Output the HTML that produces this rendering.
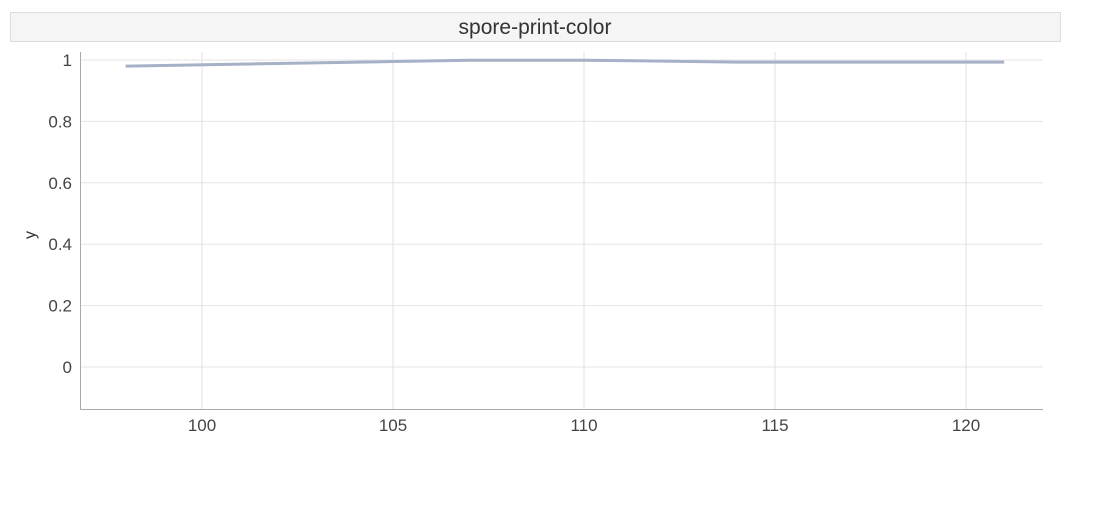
<!DOCTYPE html>
<html><head><meta charset="utf-8"><style>
body{margin:0;background:#fff;width:1109px;height:505px;overflow:hidden;font-family:"Liberation Sans",sans-serif;}
</style></head><body>
<svg width="1109" height="505">
<rect x="10.5" y="12.5" width="1050" height="29" fill="#f5f5f5" stroke="#ddd"/>
<text x="535" y="34" text-anchor="middle" font-size="21" fill="#333">spore-print-color</text>
<g id="grid"></g>
<line x1="80.5" y1="52" x2="80.5" y2="409.5" stroke="#aaa"/>
<line x1="80" y1="409.5" x2="1043" y2="409.5" stroke="#aaa"/>
<text transform="translate(35,235) rotate(-90)" text-anchor="middle" font-size="16" fill="#333">y</text>
<path id="line" fill="none" stroke="#a6b0c6" stroke-width="3"/>
</svg>
<script>
const xs=[98,105,107,110,111,114,121];
const ys=[0.980,0.995,0.999,0.999,0.998,0.993,0.993];
const xTicks=[100,105,110,115,120];
const yTicks=[0,0.2,0.4,0.6,0.8,1];
const X=v=>202+(v-100)*38.2, Y=v=>367-v*307;
const ns="http://www.w3.org/2000/svg", g=document.getElementById('grid');
function mk(t,a){const e=document.createElementNS(ns,t);for(const k in a)e.setAttribute(k,a[k]);g.appendChild(e);return e;}
yTicks.forEach(v=>{const y=Y(v);
const l=mk('line',{x1:80,x2:1043,y1:y,y2:y,stroke:'#e6e6e6'});


const t=mk('text',{x:72,y:y+6,'text-anchor':'end','font-size':17,fill:'#444'});t.textContent=v;

});
xTicks.forEach(v=>{const x=X(v);
const l=mk('line',{x1:x,x2:x,y1:52,y2:409,stroke:'#e0e0e0'});


const t=mk('text',{x:x,y:431,'text-anchor':'middle','font-size':17,fill:'#444'});t.textContent=v;

});
document.getElementById('line').setAttribute('d',xs.map((v,i)=>(i?'L':'M')+X(v)+','+Y(ys[i])).join(''));
</script>
</body></html>
